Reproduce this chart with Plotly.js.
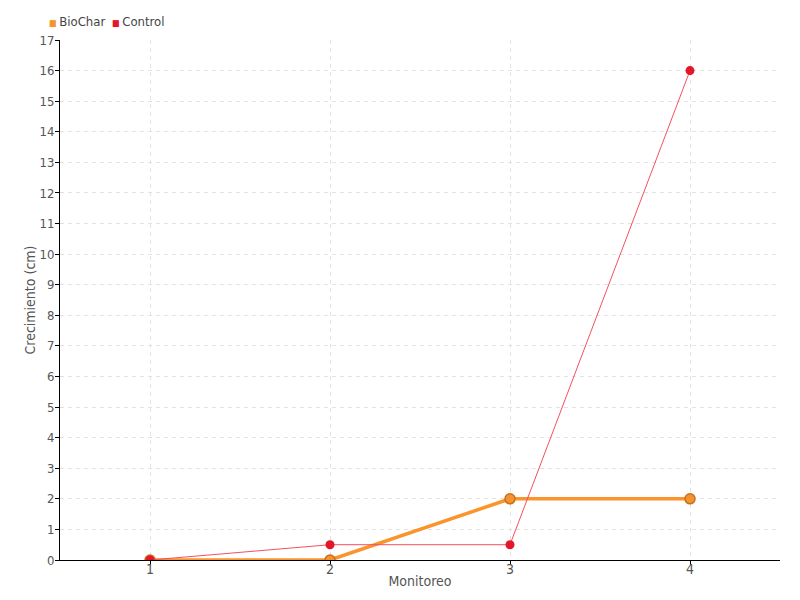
<!DOCTYPE html>
<html>
<head>
<meta charset="utf-8">
<script src="https://cdn.plot.ly/plotly-3.0.1.min.js"></script>
<style>html,body{margin:0;padding:0;background:#fff;}#chart{width:800px;height:600px;}</style>
</head>
<body>
<div id="chart"></div>
<script>
const monitoreo = [1, 2, 3, 4];
const biochar = [0, 0, 2, 2];
const control = [0, 0.5, 0.5, 16];
const yTicks = [0,1,2,3,4,5,6,7,8,9,10,11,12,13,14,15,16,17];
const seriesNames = ['BioChar', 'Control'];
const legendColors = ['#f7932e', '#e3162a'];

const FONT = "'DejaVu Sans Condensed', 'Liberation Sans Narrow', sans-serif";

const traces = [
  {
    x: monitoreo, y: biochar, name: seriesNames[0], type: 'scatter', mode: 'lines+markers',
    line: {color: '#fb942c', width: 3.5},
    marker: {color: '#f7932e', size: 10, symbol: 'circle', line: {color: '#c8701c', width: 1.5}}
  },
  {
    x: monitoreo, y: control, name: seriesNames[1], type: 'scatter', mode: 'lines+markers',
    line: {color: '#f4505e', width: 1},
    marker: {color: '#e3162a', size: 9, symbol: 'circle'}
  }
];

// compact legend drawn as text: small coloured square + series name
const legendX = [-13/720, 50/720];
const legendAnn = seriesNames.map((n, i) => ({
  xref: 'paper', yref: 'paper', x: legendX[i], y: 1 + 18/520,
  xanchor: 'left', yanchor: 'middle', showarrow: false,
  text: '<span style="color:' + legendColors[i] + ';font-size:9px">■ </span>' + n,
  font: {family: FONT, size: 13, color: '#444'}
}));

const layout = {
  width: 800, height: 600,
  margin: {l: 60, r: 20, t: 40, b: 40, autoexpand: false},
  paper_bgcolor: '#fff', plot_bgcolor: '#fff',
  font: {family: FONT, size: 13, color: '#555'},
  showlegend: false,
  annotations: legendAnn,
  xaxis: {
    range: [0.5, 4.5], tickvals: monitoreo, ticktext: monitoreo.map(String),
    showline: true, linecolor: '#000', linewidth: 1,
    ticks: 'outside', ticklen: 4, tickcolor: '#000', ticklabelstandoff: -8,
    showgrid: true, gridcolor: '#e2e2e2', griddash: '4px,4px', gridwidth: 1,
    zeroline: false,
    tickfont: {family: FONT, size: 14, color: '#555'},
    title: {text: 'Monitoreo', font: {family: FONT, size: 14, color: '#555'}, standoff: 0}
  },
  yaxis: {
    range: [0, 17], tickvals: yTicks, ticktext: yTicks.map(String),
    showline: true, linecolor: '#000', linewidth: 1,
    ticks: 'outside', ticklen: 4, tickcolor: '#000', ticklabelstandoff: -2,
    showgrid: true, gridcolor: '#e2e2e2', griddash: '4px,4px', gridwidth: 1,
    zeroline: false,
    tickfont: {family: FONT, size: 13, color: '#555'},
    title: {text: 'Crecimiento (cm)', font: {family: FONT, size: 14, color: '#555'}, standoff: 0}
  }
};

Plotly.newPlot('chart', traces, layout, {displayModeBar: false, staticPlot: true});
</script>
</body>
</html>
